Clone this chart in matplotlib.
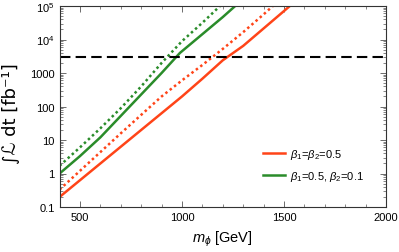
import matplotlib
matplotlib.use("Agg")
import matplotlib.pyplot as plt
import numpy as np
from matplotlib.ticker import FixedLocator, MultipleLocator, LogLocator, NullFormatter

# data (log10 of integrated luminosity, fb^-1)
m_red_solid = [400, 500, 600, 700, 800, 900, 1000, 1100, 1200, 1300, 1400, 1500, 1540]
lg_red_solid = [-0.70, -0.20, 0.30, 0.80, 1.30, 1.80, 2.30, 2.83, 3.38, 3.81, 4.33, 4.85, 5.06]
m_red_dot = [400, 500, 600, 700, 800, 900, 1000, 1100, 1200, 1300, 1400, 1460]
lg_red_dot = [-0.48, 0.08, 0.64, 1.20, 1.75, 2.30, 2.78, 3.24, 3.72, 4.22, 4.75, 5.08]
m_grn_solid = [400, 500, 600, 700, 800, 900, 990, 1100, 1200, 1270]
lg_grn_solid = [0.00, 0.52, 1.08, 1.72, 2.36, 3.00, 3.60, 4.16, 4.67, 5.05]
m_grn_dot = [400, 500, 600, 700, 800, 900, 1000, 1100, 1195]
lg_grn_dot = [0.23, 0.78, 1.35, 1.95, 2.60, 3.30, 3.95, 4.50, 5.05]
lumi_line = 3000

labels = [r"$\beta_1$=$\beta_2$=0.5", r"$\beta_1$=0.5, $\beta_2$=0.1"]
red = "#FF4418"
green = "#2A8C2A"

plt.rcParams['font.family'] = ['Liberation Sans', 'DejaVu Sans']
plt.rcParams['mathtext.fontset'] = 'custom'
plt.rcParams['mathtext.rm'] = 'Liberation Sans'
plt.rcParams['mathtext.it'] = 'Liberation Sans:italic'
plt.rcParams['mathtext.bf'] = 'Liberation Sans:bold'

fig = plt.figure(figsize=(3.99, 2.53), dpi=100)
ax = fig.add_axes([59.6/399, 1 - 208/253, (386 - 59.6)/399, (208 - 7)/253])

ax.plot(m_red_solid, 10**np.array(lg_red_solid), color=red, lw=1.8, label=labels[0])
ax.plot(m_red_dot, 10**np.array(lg_red_dot), color=red, lw=1.8, ls=(0, (1, 1.2)))
ax.plot(m_grn_solid, 10**np.array(lg_grn_solid), color=green, lw=1.8, label=labels[1])
ax.plot(m_grn_dot, 10**np.array(lg_grn_dot), color=green, lw=1.8, ls=(0, (1, 1.2)))
ax.axhline(lumi_line, color='black', lw=1.5, ls=(0, (5, 2.5)))

ax.set_xlim(400, 2000)
ax.set_yscale('log')
ax.set_ylim(0.1, 1e5)
ax.xaxis.set_major_locator(FixedLocator([500, 1000, 1500, 2000]))
ax.xaxis.set_minor_locator(MultipleLocator(100))
ax.set_yticks([0.1, 1, 10, 100, 1000, 1e4, 1e5])
ax.set_yticklabels(["0.1", "1", "10", "100", "1000", r"$10^4$", r"$10^5$"])
ax.yaxis.set_minor_locator(LogLocator(base=10, subs=np.arange(2, 10)))
ax.yaxis.set_minor_formatter(NullFormatter())
ax.tick_params(which='both', direction='in', top=True, right=True, labelsize=8, color='#555555')
ax.tick_params(which='major', length=4, width=0.6)
ax.tick_params(which='minor', length=2, width=0.5)
for s in ax.spines.values():
    s.set_linewidth(0.8)
    s.set_color('#333333')

ax.set_xlabel(r"$m_\phi$ [GeV]", fontsize=10.5, labelpad=5)
fig.text(11/399, 1 - 114/253, "∫ℒ dt [fb⁻¹]", rotation=90, ha='center', va='center',
         fontsize=13, family=['DejaVu Sans'])

ax.legend(loc='upper left', bbox_to_anchor=(0.622, 0.30), frameon=False, fontsize=8,
          borderpad=0, borderaxespad=0,
          handlelength=2.0, labelspacing=0.75, handletextpad=0.5)

fig.savefig("out.png", dpi=100)
